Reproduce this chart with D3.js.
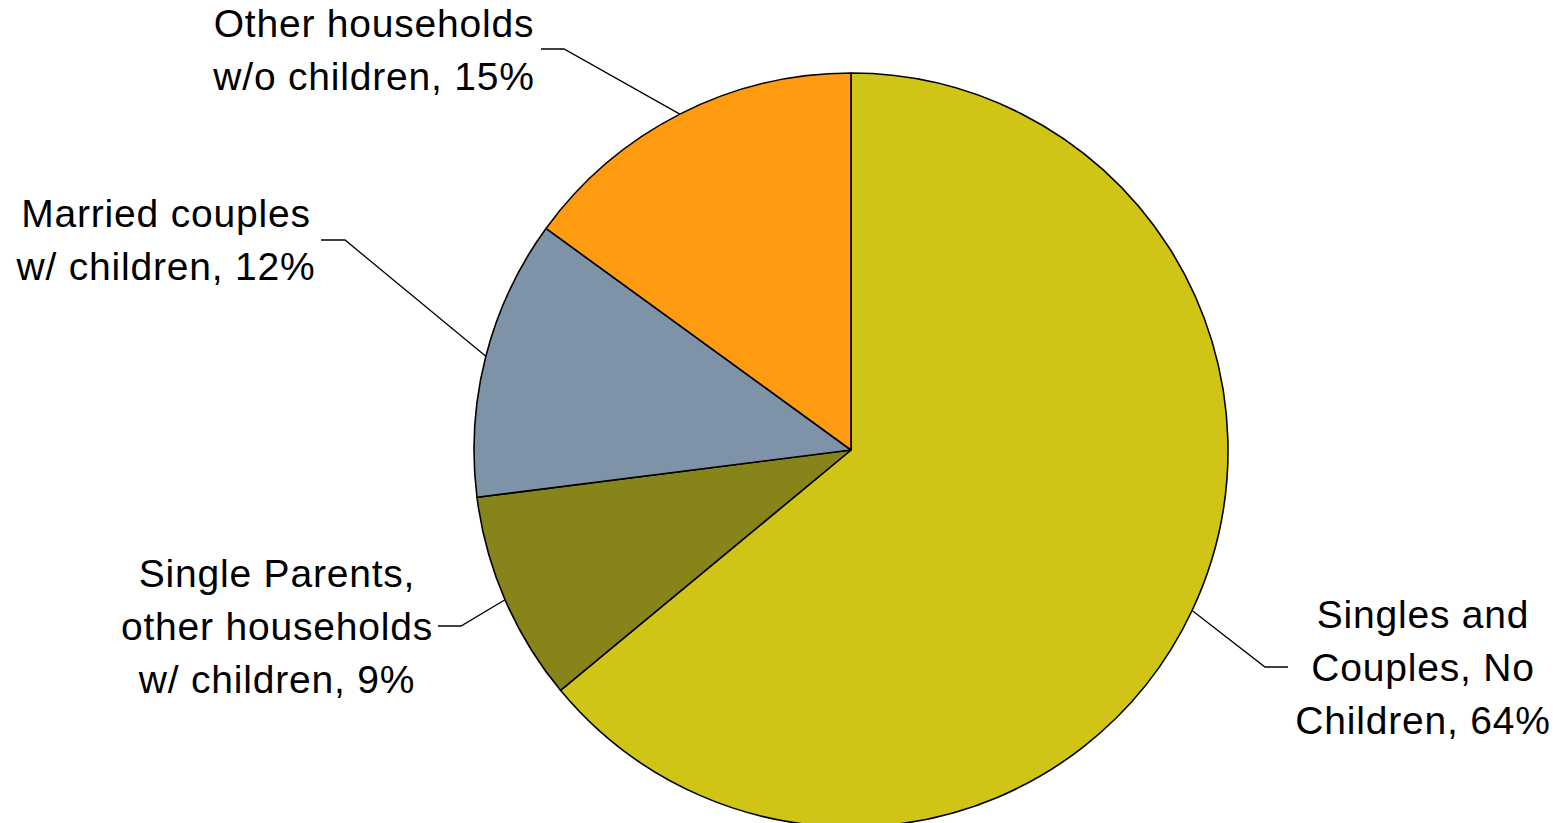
<!DOCTYPE html>
<meta charset="utf-8">
<style>
  body { margin: 0; background: #fff; }
  text { font-family: "Liberation Sans", Arial, sans-serif; font-size: 39px; letter-spacing: 0.8px; fill: #000; }
</style>
<body>
<svg width="1559" height="823"></svg>
<script src="https://d3js.org/d3.v7.min.js"></script>
<script>

// data, clockwise from 12 o'clock
var categories = ["Singles and Couples, No Children", "Single Parents, other households w/ children",
                  "Married couples w/ children", "Other households w/o children"];
var values = [64, 9, 12, 15];
var labelLines = [
  ["Singles and", "Couples, No", "Children, 64%"],
  ["Single Parents,", "other households", "w/ children, 9%"],
  ["Married couples", "w/ children, 12%"],
  ["Other households", "w/o children, 15%"]
];
var colors = ["#d0c416", "#878419", "#7f93a8", "#ff9b10"];

// label layout: text centre x, first baseline y, elbow x/y, line end x
var labelPos = [
  {x: 1423, y: 628, ex: 1265, ey: 667, lx: 1288},
  {x: 277, y: 587, ex: 461, ey: 626, lx: 438},
  {x: 166, y: 227, ex: 345, ey: 240, lx: 321},
  {x: 374, y: 37, ex: 564, ey: 49, lx: 541}
];

var svg = d3.select("svg"),
    cx = 851, cy = 450, r = 377, lineH = 53;

var pie = d3.pie().sort(null).value(d => d.value);
var arc = d3.arc().innerRadius(0).outerRadius(r);

var table = categories.map((c, i) => ({name: c, value: values[i], lines: labelLines[i], pos: labelPos[i], color: colors[i]}));
var arcs = pie(table);

var g = svg.append("g").attr("transform", "translate(" + cx + "," + cy + ")");

g.selectAll("path.slice")
  .data(arcs)
  .enter().append("path")
    .attr("class", "slice")
    .attr("d", arc)
    .attr("fill", d => d.data.color)
    .attr("stroke", "#000")
    .attr("stroke-width", 1.6)
    .attr("stroke-linejoin", "round");

// leader lines
svg.selectAll("polyline.leader")
  .data(arcs)
  .enter().append("polyline")
    .attr("class", "leader")
    .attr("fill", "none")
    .attr("stroke", "#000")
    .attr("stroke-width", 1.3)
    .attr("points", d => {
      var a = (d.startAngle + d.endAngle) / 2;
      var px = cx + r * Math.sin(a), py = cy - r * Math.cos(a);
      var p = d.data.pos;
      return [[p.lx, p.ey], [p.ex, p.ey], [px, py]].map(q => q.join(",")).join(" ");
    });

// labels
var labels = svg.selectAll("text.label")
  .data(arcs)
  .enter().append("text")
    .attr("class", "label")
    .attr("text-anchor", "middle")
    .attr("x", d => d.data.pos.x)
    .attr("y", d => d.data.pos.y);

labels.selectAll("tspan")
  .data(d => d.data.lines.map((t, i) => ({t: t, i: i, x: d.data.pos.x})))
  .enter().append("tspan")
    .attr("x", d => d.x)
    .attr("dy", d => d.i === 0 ? 0 : lineH)
    .text(d => d.t);

</script>
